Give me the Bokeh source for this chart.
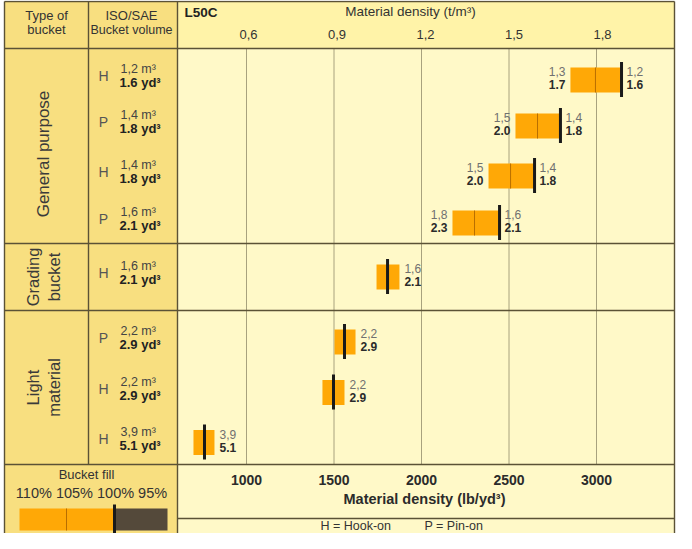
import math
from bokeh.plotting import figure
from bokeh.models import Range1d
from bokeh.core.properties import value
from bokeh.embed import file_html
from bokeh.resources import INLINE

# ---------------- data ----------------
groups = ["General purpose", "Grading\nbucket", "Light\nmaterial"]
group_sizes = [4, 1, 3]
mount = ["H", "P", "H", "P", "H", "P", "H", "H"]
vol_m3 = ["1,2", "1,4", "1,4", "1,6", "1,6", "2,2", "2,2", "3,9"]
vol_yd3 = ["1.6", "1.8", "1.8", "2.1", "2.1", "2.9", "2.9", "5.1"]
# material density limits, lb/yd3
bar_start = [2851, 2537, 2383, 2177, 1743, 1503, 1434, 697]
bar_end = [3143, 2794, 2646, 2446, 1874, 1623, 1560, 817]
fill_100 = [3143, 2794, 2646, 2446, 1806, 1560, 1497, 760]
fill_105 = [2994, 2663, 2509, 2303]
vol110_m3 = ["1,3", "1,5", "1,5", "1,8"]
vol110_yd3 = ["1.7", "2.0", "2.0", "2.3"]
ticks_lb = [1000, 1500, 2000, 2500, 3000]
ticks_lb_labels = ["1000", "1500", "2000", "2500", "3000"]
ticks_t = [0.6, 0.9, 1.2, 1.5, 1.8]
ticks_t_labels = ["0,6", "0,9", "1,2", "1,5", "1,8"]
fill_pct_labels = ["110%", "105%", "100%", "95%"]

LB_PER_T = 1685.55

# ---------------- layout (page pixels) ----------------
W, H = 676, 533
X0, Y0 = 8, 8
X1, Y1 = X0 + W, Y0 + H
PX_PER_LB = 0.175
X_AT_1000 = 254
lb0 = 1000 + (X0 - X_AT_1000) / PX_PER_LB
lb1 = 1000 + (X1 - X_AT_1000) / PX_PER_LB

L, C1, C2, R = 12, 96, 185, 682
TOP, HDR, PLOT_B, AX_B = 9, 56, 472, 526
group_bounds = [HDR, 251, 318, PLOT_B]
row_y = [87.5, 133.5, 183.5, 230.5, 284.5, 349.5, 400, 450]
BAR_H = 25

FONT = value("Liberation Sans")
GOLD = "#F8DF80"
HEAD = "#FFF3A8"
BODY = "#FFF9C8"
ORANGE = "#FFA806"
RULE = "#5B5236"
GRID = "#A8A27E"

p = figure(width=W, height=H, x_range=Range1d(X0, X1), y_range=Range1d(Y1, Y0),
           extra_x_ranges={"lb": Range1d(lb0, lb1),
                           "t": Range1d(lb0 / LB_PER_T, lb1 / LB_PER_T)},
           output_backend="svg", toolbar_location=None, min_border=0,
           x_axis_type=None, y_axis_type=None)
p.outline_line_color = None
p.background_fill_color = "white"
p.border_fill_color = "white"


def txt(x, y, s, size, color="#333333", style="normal", align="center",
        baseline="middle", angle=0.0, rng="default", xoff=0, lh=1.2):
    if not isinstance(x, list):
        x, y, s = [x], [y], [s]
    p.text(x=x, y=y, text=s, text_font=FONT, text_font_size=f"{size}px",
           text_color=color, text_font_style=style, text_align=align,
           text_baseline=baseline, angle=angle, x_offset=xoff,
           text_line_height=lh, x_range_name=rng)


# backgrounds
p.quad(left=[L, C2, C2, C2], right=[C2, R, R, R], top=[TOP, TOP, HDR, PLOT_B],
       bottom=[Y1, HDR, PLOT_B, Y1], fill_color=[GOLD, HEAD, BODY, BODY],
       line_color=None)

# grid lines
p.segment(x0=ticks_lb, x1=ticks_lb, y0=[HDR] * 5, y1=[PLOT_B] * 5,
          line_color=GRID, line_width=1, x_range_name="lb")

# table rules
hx0 = [L, L, L, L, L, C2]
hx1 = [R, R, R, R, R, R]
hy = [TOP, HDR, group_bounds[1], group_bounds[2], PLOT_B, AX_B]
p.segment(x0=hx0, x1=hx1, y0=hy, y1=hy, line_color=RULE, line_width=1.4)
vx = [L, C1, C2, R]
vy1 = [Y1, PLOT_B, Y1, Y1]
p.segment(x0=vx, x1=vx, y0=[TOP] * 4, y1=vy1, line_color=RULE, line_width=1.4)

# header texts
txt(54, 23, "Type of", 13)
txt(54, 37, "bucket", 13)
txt(139, 23, "ISO/SAE", 13)
txt(139, 37, "Bucket volume", 12.5)
txt(192, 20, "L50C", 13.5, color="#222222", style="bold", align="left")
txt(418, 19, "Material density (t/m³)", 13.5)
txt(ticks_t, [42] * 5, ticks_t_labels, 13, rng="t")

# group labels
for g, n, (ga, gb) in zip(groups, group_sizes, zip(group_bounds[:-1], group_bounds[1:])):
    gy = (ga + gb) / 2 + (8 if n == 4 else 0)
    size = 17 if n == 4 else 16.5
    txt(51, gy, g, size, color="#3a3a3a", angle=math.pi / 2)

# row labels
txt([111] * 8, [y - 4 for y in row_y], mount, 14, color="#555555")
txt([128] * 8, [y - 11 for y in row_y], [v + " m³" for v in vol_m3], 12.5,
    color="#444444", align="left")
txt([127] * 8, [y + 2.5 for y in row_y], [v + " yd³" for v in vol_yd3], 13,
    color="#222222", style="bold", align="left")

# bars
p.quad(left=bar_start, right=bar_end, top=[y - BAR_H / 2 for y in row_y],
       bottom=[y + BAR_H / 2 for y in row_y], fill_color=ORANGE, line_color=None,
       x_range_name="lb")
n4 = len(fill_105)
p.segment(x0=fill_105, x1=fill_105, y0=[y - BAR_H / 2 for y in row_y[:n4]],
          y1=[y + BAR_H / 2 for y in row_y[:n4]], line_color="#B86E00",
          line_width=1, x_range_name="lb")
p.segment(x0=fill_100, x1=fill_100, y0=[y - 18 for y in row_y],
          y1=[y + 17 for y in row_y], line_color="#1A1A1A", line_width=3,
          x_range_name="lb")

# bar value labels
txt(bar_start[:n4], [y - 8.5 for y in row_y[:n4]], vol110_m3, 12, color="#707070",
    align="right", rng="lb", xoff=-5)
txt(bar_start[:n4], [y + 4.5 for y in row_y[:n4]], vol110_yd3, 12, color="#2b2b2b",
    style="bold", align="right", rng="lb", xoff=-5)
right_x = [max(a, b) for a, b in zip(bar_end, fill_100)]
txt(right_x, [y - 8.5 for y in row_y], vol_m3, 12, color="#707070",
    align="left", rng="lb", xoff=5)
txt(right_x, [y + 4.5 for y in row_y], vol_yd3, 12, color="#2b2b2b",
    style="bold", align="left", rng="lb", xoff=5)

# bottom axis texts
txt(ticks_lb, [487] * 5, ticks_lb_labels, 14, color="#2b2b2b", style="bold", rng="lb")
txt(432, 506, "Material density (lb/yd³)", 14.5, color="#2b2b2b", style="bold")
txt(328, 533, "H = Hook-on", 12.5, align="left")
txt(432, 533, "P = Pin-on", 12.5, align="left")

# bucket fill legend
leg_x = [27, 74, 122, 175]
txt(94, 482, "Bucket fill", 13)
txt(99, 500, " ".join(fill_pct_labels), 14.5)
p.quad(left=[leg_x[0], leg_x[2]], right=[leg_x[2], leg_x[3]], top=[516, 516],
       bottom=[538, 538], fill_color=[ORANGE, "#54493A"], line_color=None)
p.segment(x0=[leg_x[1]], x1=[leg_x[1]], y0=[516], y1=[538], line_color="#B86E00",
          line_width=1)
p.segment(x0=[leg_x[2]], x1=[leg_x[2]], y0=[512], y1=[541], line_color="#1A1A1A",
          line_width=3)

open("out.html", "w").write(file_html(p, INLINE))
